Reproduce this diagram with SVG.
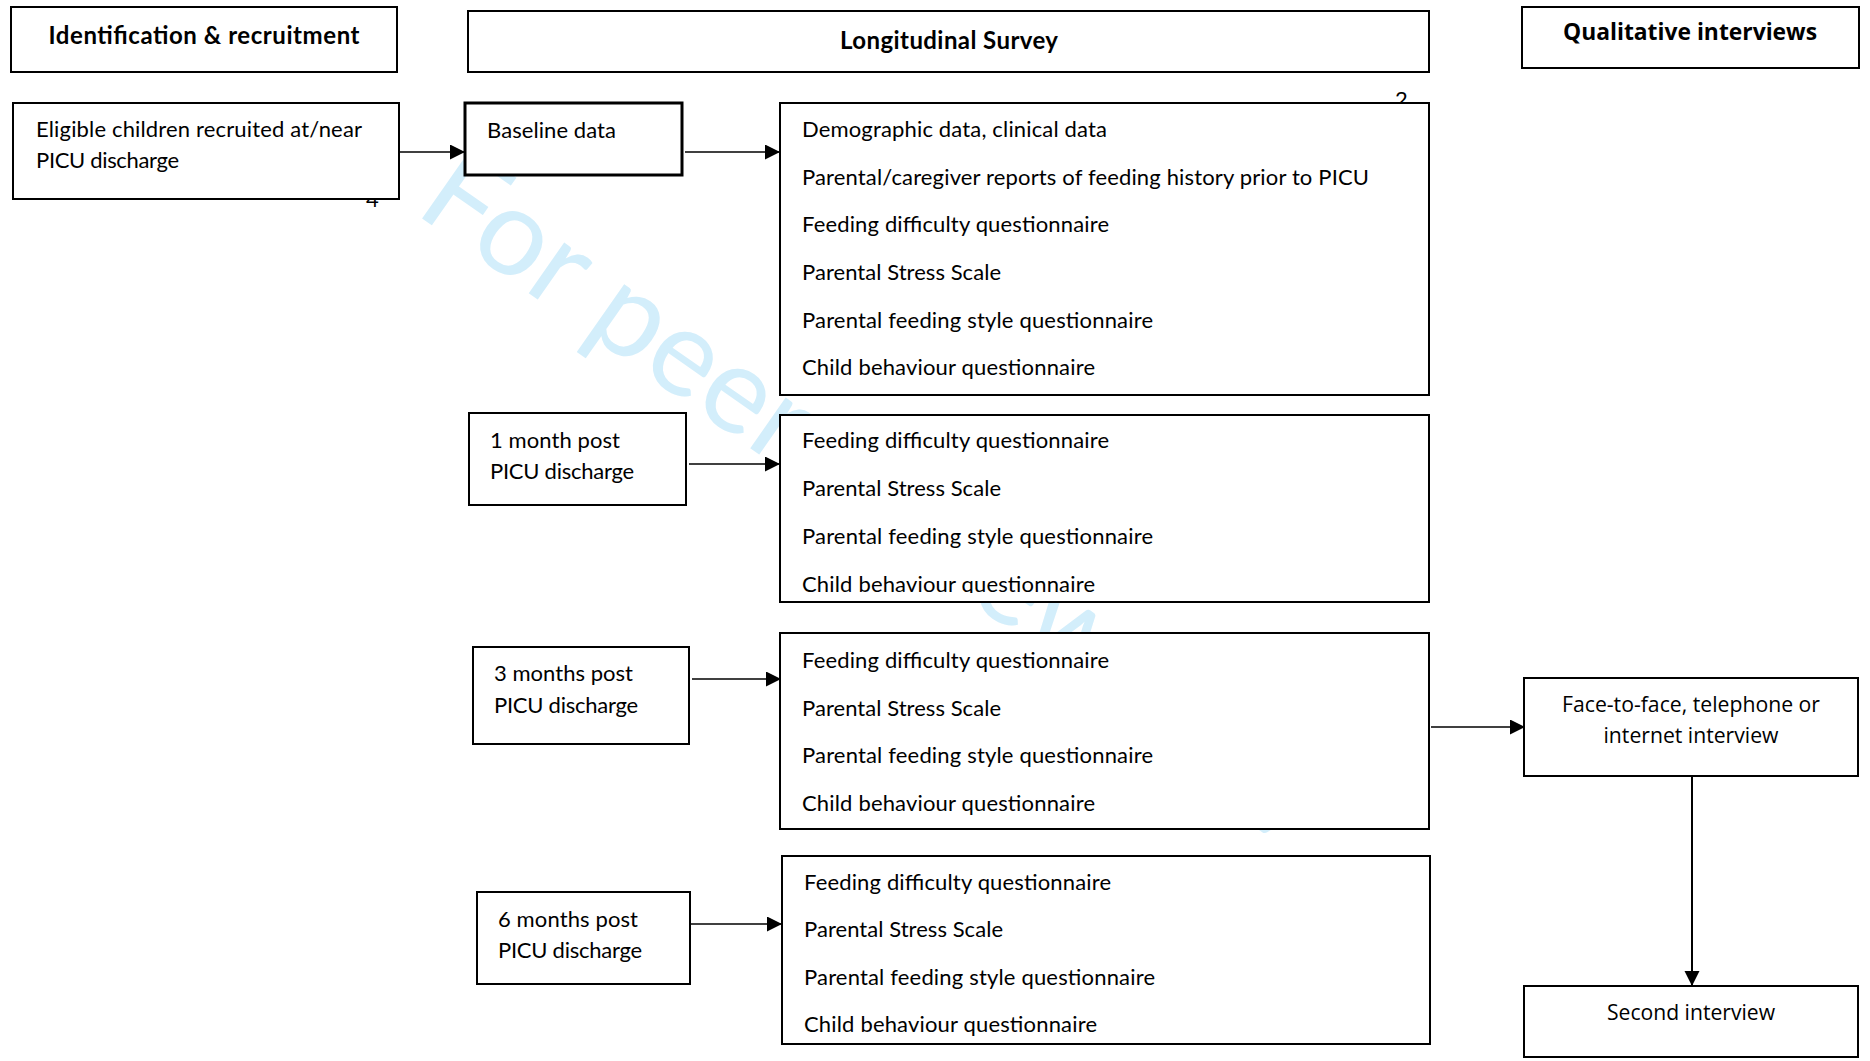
<svg xmlns="http://www.w3.org/2000/svg" width="1870" height="1061" viewBox="0 0 1870 1061">
<style>
.box{fill:#fff;stroke:#000;stroke-width:2}
.thick{stroke-width:3}
.t{font-family:Lato,"Liberation Sans",sans-serif;font-size:22px;fill:#000}
.h{font-family:Lato,"Liberation Sans",sans-serif;font-size:24px;font-weight:bold;fill:#000}
.o{font-family:"Open Sans","Liberation Sans",sans-serif;font-size:21.5px;fill:#000}
.ob{font-family:"Open Sans","Liberation Sans",sans-serif;font-size:23px;font-weight:bold;fill:#000}
.c{text-anchor:middle}
.wm{font-family:Lato,"Liberation Sans",sans-serif;font-size:122px;fill:#d3eefb}
.ln{stroke:#000;stroke-width:1.4;fill:none;marker-end:url(#ah)}
.ln2{stroke:#000;stroke-width:2;fill:none;marker-end:url(#ah)}
</style>
<defs>
<marker id="ah" markerUnits="userSpaceOnUse" markerWidth="16" markerHeight="16" refX="15" refY="7.5" orient="auto">
<path d="M0,0 L15,7.5 L0,15 z" fill="#000"/>
</marker>
<clipPath id="clip2"><rect x="780" y="415" width="649" height="178"/></clipPath>
</defs>
<rect width="1870" height="1061" fill="#fff"/>
<text class="wm" transform="translate(413,212) rotate(35)">For peer review only</text>
<text class="t" x="366" y="207">4</text>
<text class="t" x="1395" y="107">2</text>

<g id="hdr-identification">
<rect class="box" x="11" y="7" width="386" height="65"/>
<text class="h c" x="204" y="44" textLength="311">Identification &amp; recruitment</text>
</g>
<g id="hdr-longitudinal">
<rect class="box" x="468" y="11" width="961" height="61"/>
<text class="h c" x="949" y="49" textLength="218">Longitudinal Survey</text>
</g>
<g id="hdr-qualitative">
<rect class="box" x="1522" y="7" width="337" height="61"/>
<text class="ob c" x="1690" y="40" textLength="254" lengthAdjust="spacingAndGlyphs">Qualitative interviews</text>
</g>

<g id="eligible">
<rect class="box" x="13" y="103" width="386" height="96"/>
<text class="t" x="36" y="137" textLength="326">Eligible children recruited at/near</text>
<text class="t" x="36" y="168" textLength="143">PICU discharge</text>
</g>
<g id="baseline">
<rect class="box thick" x="465" y="103" width="217" height="72"/>
<text class="t" x="487" y="138" textLength="129">Baseline data</text>
</g>
<g id="baseline-measures">
<rect class="box" x="780" y="103" width="649" height="292"/>
<text class="t" x="802" y="137" textLength="305">Demographic data, clinical data</text>
<text class="t" x="802" y="185" textLength="567">Parental/caregiver reports of feeding history prior to PICU</text>
<text class="t" x="802" y="232" textLength="307">Feeding difficulty questionnaire</text>
<text class="t" x="802" y="280" textLength="199">Parental Stress Scale</text>
<text class="t" x="802" y="328" textLength="351">Parental feeding style questionnaire</text>
<text class="t" x="802" y="375" textLength="293">Child behaviour questionnaire</text>
</g>

<g id="month1">
<rect class="box" x="469" y="413" width="217" height="92"/>
<text class="t" x="490" y="448" textLength="130">1 month post</text>
<text class="t" x="490" y="479" textLength="144">PICU discharge</text>
</g>
<g id="month1-measures">
<rect class="box" x="780" y="415" width="649" height="187"/>
<text class="t" x="802" y="448" textLength="307">Feeding difficulty questionnaire</text>
<text class="t" x="802" y="496" textLength="199">Parental Stress Scale</text>
<text class="t" x="802" y="544" textLength="351">Parental feeding style questionnaire</text>
<text class="t" x="802" y="592" textLength="293" clip-path="url(#clip2)">Child behaviour questionnaire</text>
</g>

<g id="month3">
<rect class="box" x="473" y="647" width="216" height="97"/>
<text class="t" x="494" y="681" textLength="139">3 months post</text>
<text class="t" x="494" y="713" textLength="144">PICU discharge</text>
</g>
<g id="month3-measures">
<rect class="box" x="780" y="633" width="649" height="196"/>
<text class="t" x="802" y="668" textLength="307">Feeding difficulty questionnaire</text>
<text class="t" x="802" y="716" textLength="199">Parental Stress Scale</text>
<text class="t" x="802" y="763" textLength="351">Parental feeding style questionnaire</text>
<text class="t" x="802" y="811" textLength="293">Child behaviour questionnaire</text>
</g>

<g id="month6">
<rect class="box" x="477" y="892" width="213" height="92"/>
<text class="t" x="498" y="927" textLength="140">6 months post</text>
<text class="t" x="498" y="958" textLength="144">PICU discharge</text>
</g>
<g id="month6-measures">
<rect class="box" x="782" y="856" width="648" height="188"/>
<text class="t" x="804" y="890" textLength="307">Feeding difficulty questionnaire</text>
<text class="t" x="804" y="937" textLength="199">Parental Stress Scale</text>
<text class="t" x="804" y="985" textLength="351">Parental feeding style questionnaire</text>
<text class="t" x="804" y="1032" textLength="293">Child behaviour questionnaire</text>
</g>

<g id="interview1">
<rect class="box" x="1524" y="678" width="334" height="98"/>
<text class="o c" x="1691" y="712" textLength="258" lengthAdjust="spacingAndGlyphs">Face-to-face, telephone or</text>
<text class="o c" x="1691" y="743" textLength="175" lengthAdjust="spacingAndGlyphs">internet interview</text>
</g>
<g id="interview2">
<rect class="box" x="1524" y="986" width="334" height="71"/>
<text class="o c" x="1691" y="1020" textLength="168" lengthAdjust="spacingAndGlyphs">Second interview</text>
</g>

<g id="connectors">
<line class="ln" x1="399" y1="152" x2="465" y2="152"/>
<line class="ln" x1="685" y1="152" x2="780" y2="152"/>
<line class="ln" x1="689" y1="464" x2="780" y2="464"/>
<line class="ln" x1="692" y1="679" x2="781" y2="679"/>
<line class="ln" x1="690" y1="924" x2="782" y2="924"/>
<line class="ln" x1="1431" y1="727" x2="1525" y2="727"/>
<line class="ln2" x1="1692" y1="776" x2="1692" y2="986"/>
</g>
</svg>
